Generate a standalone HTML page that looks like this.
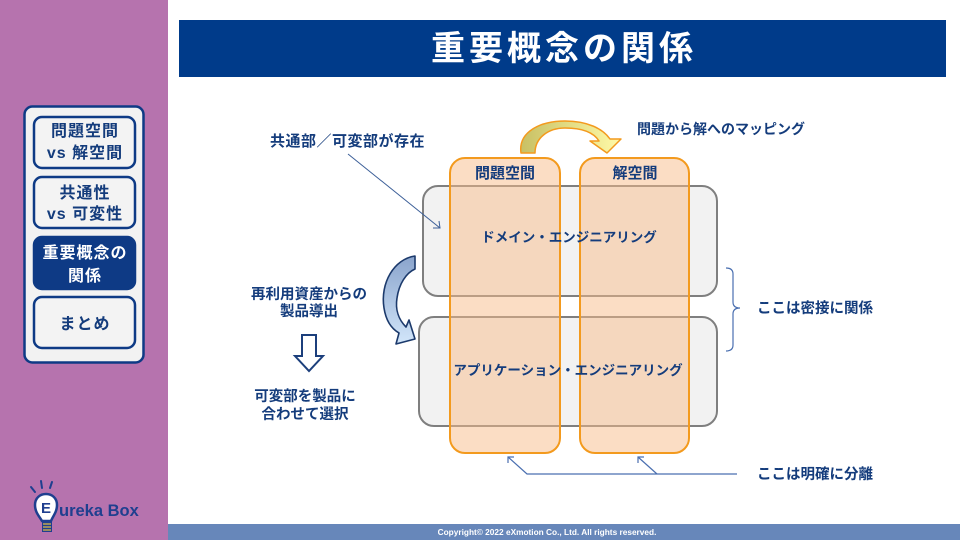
<!DOCTYPE html>
<html><head><meta charset="utf-8"><style>
html,body{margin:0;padding:0;background:#fff;}
body{width:960px;height:540px;overflow:hidden;position:relative;}
svg{position:absolute;left:0;top:0;}
text{font-family:"Liberation Sans","Noto Sans CJK JP",sans-serif;font-weight:bold;}
</style></head><body>
<svg width="960" height="540" viewBox="0 0 960 540" xmlns="http://www.w3.org/2000/svg">
<defs>
<linearGradient id="gy" x1="0" y1="0" x2="1" y2="0">
<stop offset="0" stop-color="#c8c064"/><stop offset="1" stop-color="#fffaa8"/>
</linearGradient>
<linearGradient id="gb" x1="0" y1="0" x2="0" y2="1">
<stop offset="0" stop-color="#8aa4cc"/><stop offset="1" stop-color="#d2e6fa"/>
</linearGradient>
</defs>
<!-- sidebar -->
<rect x="0" y="0" width="168" height="540" fill="#b673ae"/>
<rect x="24.5" y="106.5" width="119" height="256" rx="8" fill="#f2f2f2" stroke="#0e3a85" stroke-width="2.5"/>
<rect x="34" y="117" width="101" height="51" rx="8" fill="#f3f3f3" stroke="#0e3a85" stroke-width="2.5"/>
<rect x="34" y="177" width="101" height="51" rx="8" fill="#f3f3f3" stroke="#0e3a85" stroke-width="2.5"/>
<rect x="34" y="237" width="101" height="52" rx="8" fill="#0e3a85" stroke="#0e3a85" stroke-width="2.5"/>
<rect x="34" y="297" width="101" height="51" rx="8" fill="#f3f3f3" stroke="#0e3a85" stroke-width="2.5"/>
<g fill="#143c7c" font-size="16" text-anchor="middle">
<text x="85" y="136" letter-spacing="1">問題空間</text>
<text x="85" y="158" letter-spacing="1">vs 解空間</text>
<text x="85" y="198" letter-spacing="1">共通性</text>
<text x="85" y="219" letter-spacing="1">vs 可変性</text>
<text x="85" y="329" letter-spacing="1">まとめ</text>
</g>
<g fill="#ffffff" font-size="16" text-anchor="middle">
<text x="85" y="258" letter-spacing="1">重要概念の</text>
<text x="85" y="281" letter-spacing="1">関係</text>
</g>
<!-- logo -->
<g stroke="#1f3f8f" stroke-width="2" stroke-linecap="round">
<line x1="31" y1="487" x2="35" y2="492"/>
<line x1="41" y1="481" x2="42" y2="488"/>
<line x1="52" y1="482" x2="50" y2="488"/>
</g>
<path d="M42,521 C39,516 35,512 35,505 C35,498 40,494 46,494 C52,494 57,498 57,505 C57,512 53,516 51,521 Z" fill="#ffffff" stroke="#1f3f8f" stroke-width="2.5"/>
<rect x="42" y="521" width="10" height="11" fill="#1f3f8f"/>
<g stroke="#e8c040" stroke-width="1.2"><line x1="43" y1="524" x2="51" y2="524"/><line x1="43" y1="527" x2="51" y2="527"/><line x1="43" y1="530" x2="51" y2="530"/></g>
<text x="46" y="513" font-size="15" fill="#1f3f8f" text-anchor="middle">E</text>
<text x="59" y="516" font-size="16.5" fill="#1f3f8f">ureka Box</text>
<!-- title -->
<rect x="179" y="20" width="767" height="57" fill="#003b8a"/>
<text x="564" y="60" font-size="34" fill="#ffffff" text-anchor="middle" letter-spacing="4">重要概念の関係</text>
<!-- footer -->
<rect x="168" y="524" width="792" height="16" fill="#6787ba"/>
<text x="547" y="535" font-size="8.3" fill="#ffffff" text-anchor="middle">Copyright© 2022 eXmotion Co., Ltd. All rights reserved.</text>
<!-- gray boxes -->
<rect x="423" y="186" width="294" height="110" rx="15" fill="#f2f2f2" stroke="#7f7f7f" stroke-width="2"/>
<rect x="419" y="317" width="298" height="109" rx="15" fill="#f2f2f2" stroke="#7f7f7f" stroke-width="2"/>
<!-- orange columns -->
<rect x="450" y="158" width="110" height="295" rx="15" fill="rgba(248,188,138,0.5)" stroke="#f39a1e" stroke-width="2"/>
<rect x="580" y="158" width="109" height="295" rx="15" fill="rgba(248,188,138,0.5)" stroke="#f39a1e" stroke-width="2"/>
<g fill="#143c7c" text-anchor="middle">
<text x="505" y="178" font-size="15">問題空間</text>
<text x="635" y="178" font-size="15">解空間</text>
<text x="569" y="242" font-size="13.5">ドメイン・エンジニアリング</text>
<text x="568" y="375" font-size="13.5">アプリケーション・エンジニアリング</text>
</g>
<!-- mapping arrow -->
<path d="M521,153 C518,132 540,121 565,121 C588,121 603,129 610,139 L621,139 L607,153 L590,141 L599,141 C594,133 583,128 565,128 C548,128 535,138 535,153 Z" fill="url(#gy)" stroke="#f39a1e" stroke-width="1.5" stroke-linejoin="round"/>
<text x="637" y="134" font-size="14" fill="#143c7c">問題から解へのマッピング</text>
<!-- common text + arrow -->
<text x="270" y="146" font-size="15" fill="#143c7c" letter-spacing="0.5">共通部／可変部が存在</text>
<g stroke="#3c5f98" stroke-width="1" fill="none">
<line x1="348" y1="154" x2="440" y2="228"/>
<polyline points="433,228 440,228 439,221"/>
</g>
<!-- blue curved arrow -->
<path d="M415,256 C394,259 380,283 384,308 C386,321 392,329 399,333 L396,344 L415,339 L409,320 L406,327 C399,320 395,310 397,298 C399,284 406,273 415,269 Z" fill="url(#gb)" stroke="#1c3a6c" stroke-width="1.6" stroke-linejoin="round"/>
<!-- left texts -->
<g fill="#143c7c" font-size="14.5" text-anchor="middle">
<text x="309" y="299">再利用資産からの</text>
<text x="309" y="316">製品導出</text>
<text x="305" y="401">可変部を製品に</text>
<text x="305" y="419">合わせて選択</text>
</g>
<path d="M302,335 L316,335 L316,356 L323,356 L309,371 L295,356 L302,356 Z" fill="#ffffff" stroke="#1c3f7c" stroke-width="2" stroke-linejoin="miter"/>
<!-- right bracket -->
<path d="M726,268 Q733,268 733,274 L733,302 Q733,308 740,308 Q733,308 733,314 L733,345 Q733,351 726,351" fill="none" stroke="#4a6fb0" stroke-width="1.2"/>
<text x="757" y="313" font-size="14.5" fill="#143c7c">ここは密接に関係</text>
<!-- bottom connectors -->
<g stroke="#4a6fb0" stroke-width="1.2" fill="none">
<polyline points="737,474 527,474 508,457"/>
<line x1="657" y1="474" x2="638" y2="457"/>
<polyline points="508,463 508,457 514,457"/>
<polyline points="638,463 638,457 644,457"/>
</g>
<text x="757" y="479" font-size="14.5" fill="#143c7c">ここは明確に分離</text>
</svg>
</body></html>
